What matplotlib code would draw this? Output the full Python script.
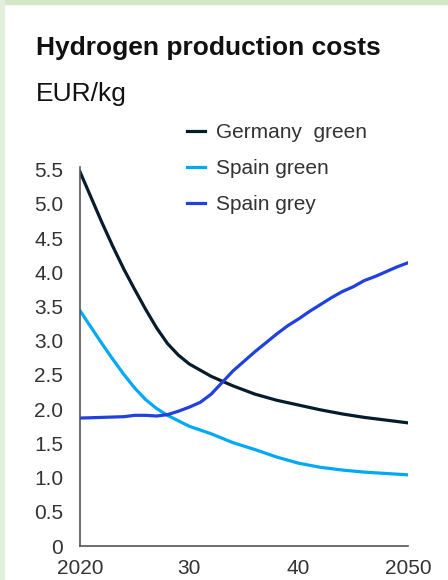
import numpy as np
from matplotlib import pyplot as plt
from matplotlib.patches import Rectangle

plt.rcParams['font.family'] = ['Liberation Sans', 'DejaVu Sans']

# data (EUR/kg)
germany_years = [2020, 2021, 2022, 2023, 2024, 2025, 2026, 2027, 2028, 2029, 2030,
                 2032, 2034, 2036, 2038, 2040, 2042, 2044, 2046, 2048, 2050]
germany_green = [5.47, 5.10, 4.73, 4.38, 4.05, 3.75, 3.46, 3.19, 2.96, 2.79, 2.66,
                 2.48, 2.34, 2.22, 2.13, 2.06, 1.99, 1.93, 1.88, 1.84, 1.80]

spain_green_years = [2020, 2021, 2022, 2023, 2024, 2025, 2026, 2027, 2028, 2029, 2030,
                     2032, 2034, 2036, 2038, 2040, 2042, 2044, 2046, 2048, 2050]
spain_green = [3.44, 3.20, 2.96, 2.73, 2.51, 2.31, 2.14, 2.01, 1.91, 1.83, 1.75,
               1.64, 1.51, 1.41, 1.30, 1.21, 1.15, 1.11, 1.08, 1.06, 1.04]

spain_grey_years = [2020, 2022, 2024, 2025, 2026, 2027, 2028, 2029, 2030, 2031, 2032,
                    2033, 2034, 2035, 2036, 2037, 2038, 2039, 2040, 2041, 2042, 2043,
                    2044, 2045, 2046, 2047, 2048, 2049, 2050]
spain_grey = [1.87, 1.88, 1.89, 1.91, 1.91, 1.90, 1.92, 1.97, 2.03, 2.10, 2.22,
              2.39, 2.56, 2.70, 2.84, 2.97, 3.10, 3.22, 3.32, 3.43, 3.53, 3.63,
              3.72, 3.79, 3.88, 3.94, 4.01, 4.08, 4.14]

x_ticks = [2020, 2030, 2040, 2050]
x_tick_labels = ["2020", "30", "40", "2050"]
y_ticks = [0, 0.5, 1.0, 1.5, 2.0, 2.5, 3.0, 3.5, 4.0, 4.5, 5.0, 5.5]
y_tick_labels = ["0", "0.5", "1.0", "1.5", "2.0", "2.5", "3.0", "3.5", "4.0", "4.5", "5.0", "5.5"]

fig = plt.figure(figsize=(4.48, 5.8), dpi=100)

# light green frame on top / left edge
fig.patches.append(Rectangle((0, 1 - 4 / 580), 1, 4 / 580, transform=fig.transFigure,
                             color="#d3e6c6", zorder=0))
fig.patches.append(Rectangle((0, 0), 4 / 448, 1, transform=fig.transFigure,
                             color="#e4efdb", zorder=0))

ax = fig.add_axes([80 / 448, 34 / 580, 328 / 448, 379 / 580])

ax.plot(germany_years, germany_green, color="#051c2c", lw=2.3, label="Germany  green")
ax.plot(spain_green_years, spain_green, color="#00a9f4", lw=2.3, label="Spain green")
ax.plot(spain_grey_years, spain_grey, color="#2140e0", lw=2.3, label="Spain grey")

ax.set_xlim(2020, 2050)
ax.set_ylim(0, 5.54)
ax.set_xticks(x_ticks, x_tick_labels)
ax.set_yticks(y_ticks, y_tick_labels)
ax.tick_params(length=0, labelsize=15, labelcolor="#333333")
ax.tick_params(axis="y", pad=12)
ax.tick_params(axis="x", pad=9)

for s in ["top", "right"]:
    ax.spines[s].set_visible(False)
for s in ["left", "bottom"]:
    ax.spines[s].set_color("#555555")
    ax.spines[s].set_linewidth(1.2)

fig.text(36 / 448, 1 - 55 / 580, "Hydrogen production costs", fontsize=19,
         fontweight="bold", color="#111111", va="baseline")
fig.text(36 / 448, 1 - 101 / 580, "EUR/kg", fontsize=19, color="#111111", va="baseline")

fig.legend(loc="upper left", bbox_to_anchor=(187 / 448, 1 - 123 / 580), frameon=False,
           fontsize=15, handlelength=0.87, handletextpad=0.5, labelspacing=0.82,
           borderpad=0, borderaxespad=0, labelcolor="#333333")

fig.savefig("out.png", dpi=100)
